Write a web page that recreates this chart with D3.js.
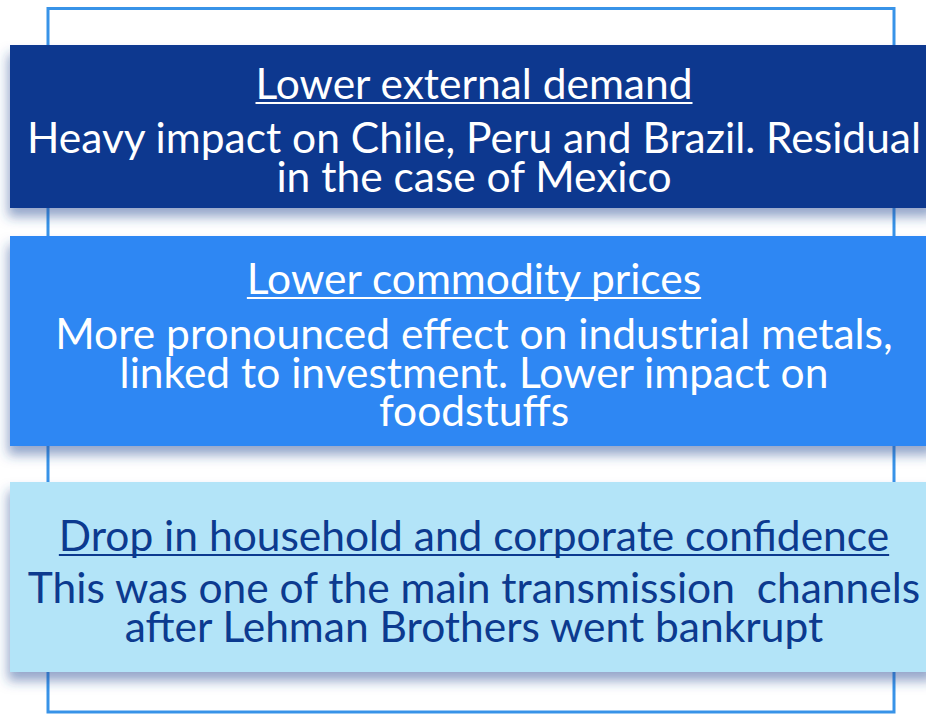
<!DOCTYPE html>
<html>
<head>
<meta charset="utf-8">
<script src="https://cdn.jsdelivr.net/npm/d3@7"></script>
<style>
  body { margin: 0; background: #fff; }
  svg { display: block; }
</style>
</head>
<body>
<div id="chart-area"></div>
<script>
// content of the three boxes
const titles = ["Lower external demand", "Lower commodity prices", "Drop in household and corporate confidence"]
const bodyLines = [
  ["Heavy impact on Chile, Peru and Brazil. Residual", "in the case of Mexico"],
  ["More pronounced effect on industrial metals,", "linked to investment. Lower impact on", "foodstuffs"],
  ["This was one of the main transmission  channels", "after Lehman Brothers went bankrupt"]
]
const fills = ["#0c378f", "#2d87f3", "#b3e4f8"]
const textColors = ["#ffffff", "#ffffff", "#0c3a8f"]

// layout (px)
const W = 926, H = 714
const boxTop = [45, 236, 482]
const boxBottom = [208, 446, 672]
const titleBase = [99, 294, 551]
const bodyBase = [153, 349, 603]
const LINE = 38.5
const CX = 474
const FONT = "Lato, 'Open Sans', sans-serif"
const FS = 42.5

const svg = d3.select("#chart-area").append("svg")
    .attr("width", W)
    .attr("height", H)

const defs = svg.append("defs")
const f = defs.append("filter").attr("id", "shadow")
    .attr("x", "-5%").attr("y", "-20%").attr("width", "110%").attr("height", "160%")
f.append("feDropShadow")
    .attr("dx", -2).attr("dy", 9).attr("stdDeviation", 6)
    .attr("flood-color", "#2a4f95").attr("flood-opacity", 0.5)

// outer frame
svg.append("rect")
    .attr("x", 48).attr("y", 8.5)
    .attr("width", 846).attr("height", 703.5)
    .attr("fill", "#fff")
    .attr("stroke", "#3893e8")
    .attr("stroke-width", 3)

const idx = d3.range(titles.length)

const boxes = svg.selectAll("g.box").data(idx).enter().append("g").attr("class", "box")

boxes.append("rect")
    .attr("x", 10)
    .attr("y", i => boxTop[i])
    .attr("width", W)
    .attr("height", i => boxBottom[i] - boxTop[i])
    .attr("fill", i => fills[i])
    .attr("filter", "url(#shadow)")

boxes.append("text")
    .attr("class", "title")
    .attr("x", CX)
    .attr("y", i => titleBase[i])
    .attr("text-anchor", "middle")
    .attr("font-family", FONT)
    .attr("font-size", FS)
    .attr("fill", i => textColors[i])
    .text(i => titles[i])

// underline under each title
boxes.each(function(i) {
  const g = d3.select(this)
  const w = g.select("text.title").node().getComputedTextLength()
  g.append("rect")
    .attr("x", CX - w / 2)
    .attr("y", titleBase[i] + 3)
    .attr("width", w)
    .attr("height", 2)
    .attr("fill", textColors[i])
})

boxes.each(function(i) {
  d3.select(this).selectAll("text.body")
    .data(bodyLines[i])
    .enter().append("text")
    .attr("class", "body")
    .attr("x", CX)
    .attr("y", (d, j) => bodyBase[i] + j * LINE)
    .attr("text-anchor", "middle")
    .attr("font-family", FONT)
    .attr("font-size", FS)
    .attr("fill", textColors[i])
    .style("white-space", "pre")
    .text(d => d)
})
</script>
</body>
</html>
